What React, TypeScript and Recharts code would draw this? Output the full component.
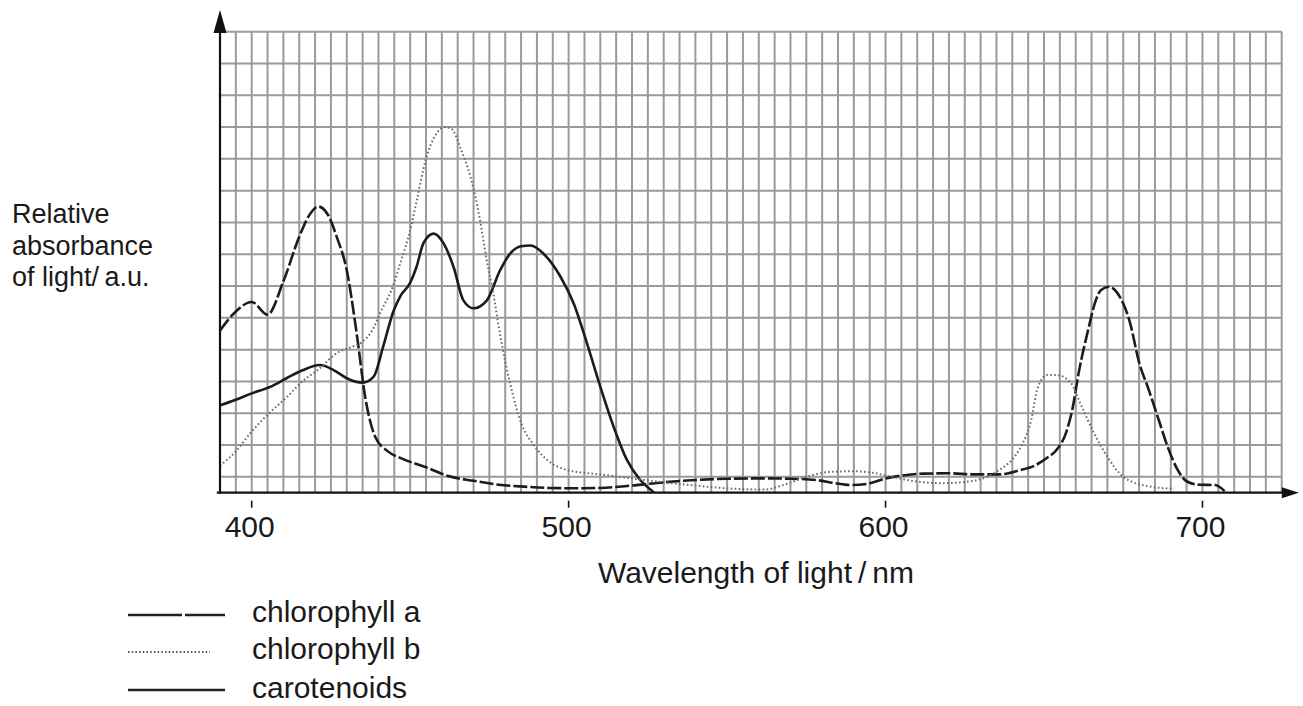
import React from 'react';
import { CartesianGrid, Line, LineChart, ReferenceLine, XAxis, YAxis } from 'recharts';

// wavelength (nm) / relative absorbance (grid squares)
const chlANm = [390, 395, 400, 405, 410, 415, 418, 421, 424, 427, 430, 433, 436, 439, 443, 448, 455, 462, 470, 478, 486, 494, 502, 510, 520, 530, 540, 550, 560, 570, 578, 584, 589, 594, 600, 606, 612, 620, 628, 636, 642, 647, 651, 654, 657, 659, 661, 664, 666, 668, 670.5, 673, 675, 677, 680, 683, 686, 689, 692, 695, 699, 704, 707];
const chlAVal = [10.2, 11.4, 12.0, 11.2, 13.3, 16.1, 17.4, 18.0, 17.5, 16.0, 14.0, 10.2, 5.8, 3.5, 2.6, 2.1, 1.6, 1.05, 0.75, 0.5, 0.38, 0.3, 0.28, 0.3, 0.45, 0.65, 0.8, 0.88, 0.9, 0.88, 0.8, 0.6, 0.48, 0.55, 0.9, 1.1, 1.2, 1.22, 1.15, 1.15, 1.4, 1.7, 2.2, 2.7, 3.8, 5.3, 7.6, 10.3, 11.9, 12.75, 12.96, 12.6, 11.9, 10.8, 8.2, 6.5, 4.7, 2.9, 1.5, 0.72, 0.5, 0.48, 0.1];

const chlBNm = [390, 395, 400, 405, 411, 416, 421, 427, 432, 435, 438, 441, 444, 447, 450, 452, 455, 458, 461, 463, 466, 469, 472, 474, 476, 478.5, 481.5, 485, 489, 493, 500, 510, 518, 528, 540, 552, 562, 568, 575, 582, 590, 596, 602, 610, 618, 626, 632, 636, 640, 643, 646, 648, 651, 654, 658.5, 661.5, 665.8, 670, 675, 683, 691];
const chlBVal = [1.7, 2.6, 3.85, 4.9, 6.0, 7.0, 7.75, 8.8, 9.2, 9.5, 10.2, 11.5, 12.7, 14.5, 16.5, 18.3, 21.0, 22.5, 23.0, 22.9, 21.6, 19.9, 17.2, 14.8, 12.8, 9.8, 6.9, 4.4, 3.0, 2.1, 1.4, 1.15, 0.95, 0.7, 0.45, 0.25, 0.2, 0.5, 1.0, 1.3, 1.35, 1.25, 1.0, 0.7, 0.6, 0.7, 1.0, 1.45, 2.1, 3.0, 4.6, 6.6, 7.4, 7.4, 6.9, 5.6, 3.74, 2.26, 1.0, 0.4, 0.25];

const caroNm = [390, 395, 400, 406, 411, 416, 421.5, 426, 430, 435, 438.5, 441.5, 444.7, 447, 450, 452, 454.2, 457.4, 460.5, 463.7, 466.8, 470, 474.2, 478.4, 481.6, 485, 488, 492, 497.4, 501.6, 505.8, 510, 514.2, 518.4, 522.6, 525.8, 527];
const caroVal = [5.5, 5.85, 6.25, 6.67, 7.2, 7.7, 8.03, 7.7, 7.2, 6.92, 7.3, 9.2, 11.4, 12.4, 13.2, 14.2, 15.7, 16.3, 15.7, 14.2, 12.1, 11.6, 12.1, 14.0, 15.05, 15.5, 15.55, 15.05, 13.6, 11.9, 9.4, 6.67, 4.15, 2.06, 0.8, 0.2, 0];

const labelTicks = [400, 500, 600, 700];
const seriesNames = ['chlorophyll a', 'chlorophyll b', 'carotenoids'];

const gridX = Array.from({ length: 68 }, (_, i) => 390 + i * 5);
const gridY = Array.from({ length: 30 }, (_, i) => i);

const zip = (xs: number[], ys: number[]) => xs.map((nm, i) => ({ nm, v: ys[i] }));
const chlA = zip(chlANm, chlAVal);
const chlB = zip(chlBNm, chlBVal);
const caro = zip(caroNm, caroVal);

const FONT = '"Liberation Sans", Arial, sans-serif';

const WaveTick = (props: any) => {
  const { x, y, payload } = props;
  if (!labelTicks.includes(payload.value)) return null;
  return (
    <g>
      <line x1={x} x2={x} y1={y} y2={y + 7} stroke='#111' strokeWidth={1.6} />
      <text x={x - 2} y={y + 36} textAnchor='middle' fontSize={30} fill='#1a1a1a' fontFamily={FONT}>
        {payload.value}
      </text>
    </g>
  );
};

const xArrow = (p: any) => (
  <g>
    <line x1={p.x1} y1={p.y1} x2={p.x2 - 14} y2={p.y2} stroke='#111' strokeWidth={2.2} />
    <path d={`M${p.x2},${p.y2} L${p.x2 - 17},${p.y2 - 5.5} L${p.x2 - 17},${p.y2 + 5.5} Z`} fill='#111' />
  </g>
);

const yArrow = (p: any) => (
  <g>
    <line x1={p.x1} y1={p.y1} x2={p.x2} y2={p.y2 + 20} stroke='#111' strokeWidth={2.2} />
    <path d={`M${p.x2},${p.y2} L${p.x2 - 6.5},${p.y2 + 23} L${p.x2 + 6.5},${p.y2 + 23} Z`} fill='#111' />
  </g>
);

export default function App() {
  return (
    <div style={{ position: 'absolute', left: 0, top: 0, width: 1303, height: 706, background: '#fff', fontFamily: FONT }}>
      <LineChart width={1303} height={706} margin={{ top: 31.7, right: 21.3, left: 220, bottom: 153.3 }}>
        <CartesianGrid stroke='#9a9a9a' strokeWidth={2} verticalValues={gridX} horizontalValues={gridY} />
        <XAxis
          type='number'
          dataKey='nm'
          domain={[390, 725]}
          ticks={gridX}
          interval={0}
          height={60}
          axisLine={false}
          tickLine={false}
          tick={<WaveTick />}
          allowDataOverflow
        />
        <YAxis type='number' domain={[0, 29]} ticks={gridY} hide allowDataOverflow />
        <Line data={caro} dataKey='v' type='monotone' stroke='#1c1c1c' strokeWidth={2.6} dot={false} activeDot={false} isAnimationActive={false} />
        <Line data={chlA} dataKey='v' type='monotone' stroke='#1c1c1c' strokeWidth={2.6} strokeDasharray='14 3' dot={false} activeDot={false} isAnimationActive={false} />
        <Line data={chlB} dataKey='v' type='monotone' stroke='#6a6a6a' strokeWidth={2} strokeDasharray='1.6 2.4' dot={false} activeDot={false} isAnimationActive={false} />
        <ReferenceLine segment={[{ x: 389, y: 0 }, { x: 730.4, y: 0 }]} ifOverflow='visible' shape={xArrow} />
        <ReferenceLine segment={[{ x: 390, y: -0.05 }, { x: 390, y: 30.36 }]} ifOverflow='visible' shape={yArrow} />
      </LineChart>
      <svg width={1303} height={706} style={{ position: 'absolute', left: 0, top: 0, pointerEvents: 'none' }}>
        <g fontFamily={FONT} fill='#1a1a1a'>
          <g fontSize={27}>
            <text x={12} y={223}>Relative</text>
            <text x={12} y={254.5}>absorbance</text>
            <text x={12} y={286}>of light/{'\u2009'}a.u.</text>
          </g>
          <g fontSize={30}>
            <text x={756} y={583} textAnchor='middle'>Wavelength of light{'\u2009'}/{'\u2009'}nm</text>
            <line x1={128} x2={182} y1={615} y2={615} stroke='#222' strokeWidth={2.4} />
            <line x1={185} x2={225} y1={615} y2={615} stroke='#222' strokeWidth={2.4} />
            <line x1={128} x2={210} y1={652} y2={652} stroke='#555' strokeWidth={1.8} strokeDasharray='1.5 2.2' />
            <line x1={128} x2={225} y1={690} y2={690} stroke='#222' strokeWidth={2.4} />
            <text x={252} y={622}>{seriesNames[0]}</text>
            <text x={252} y={659}>{seriesNames[1]}</text>
            <text x={252} y={698}>{seriesNames[2]}</text>
          </g>
        </g>
      </svg>
    </div>
  );
}
